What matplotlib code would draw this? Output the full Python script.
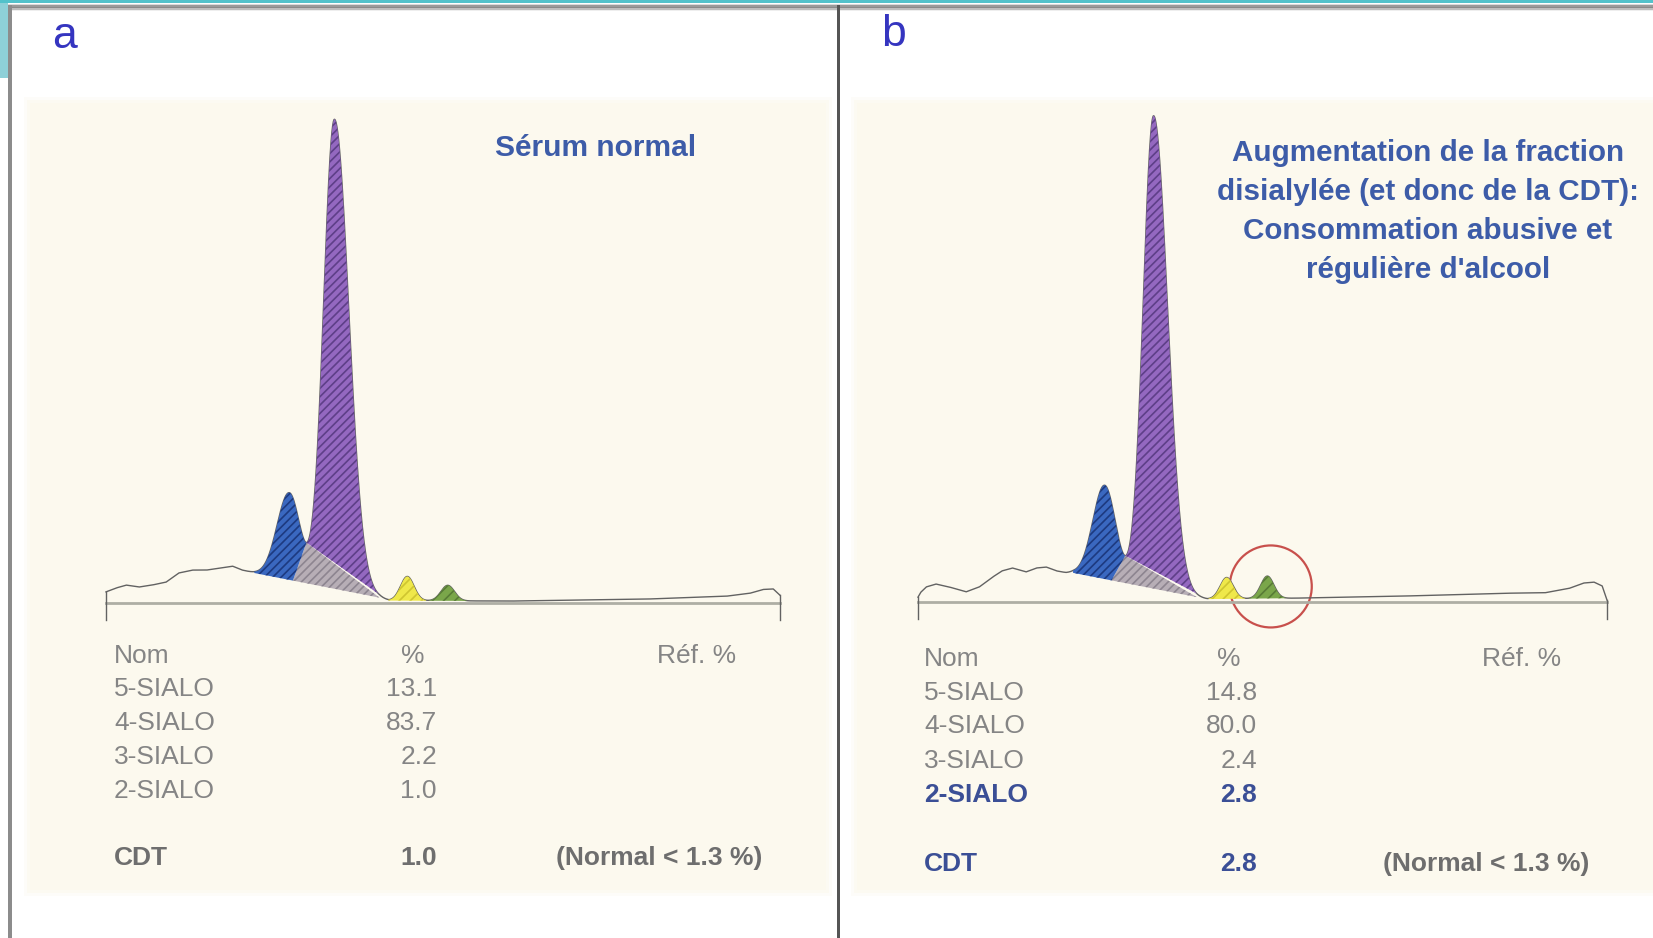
"""
CDT capillary electrophoresis: normal serum vs. chronic alcohol use.
"""

import numpy as np
import matplotlib
matplotlib.use("Agg")
import matplotlib.pyplot as plt
from matplotlib.patches import Rectangle, Polygon, Circle

plt.rcParams["font.family"] = ["Liberation Sans", "DejaVu Sans"]
plt.rcParams["hatch.linewidth"] = 1.2

W, H = 1653, 938

# ---- table values ----
row_names = ["5-SIALO", "4-SIALO", "3-SIALO", "2-SIALO"]
pct_a = ["13.1", "83.7", "2.2", "1.0"]
pct_b = ["14.8", "80.0", "2.4", "2.8"]
cdt_a = "1.0"
cdt_b = "2.8"
normal_text = "(Normal < 1.3 %)"
title_a = "Sérum normal"
title_b_lines = [
    "Augmentation de la fraction",
    "disialylée (et donc de la CDT):",
    "Consommation abusive et",
    "régulière d'alcool",
]

# ---- electropherograms (x: 0-100 along trace, y: 4-SIALO apex ~ 100) ----
# peak order: 5-SIALO, 4-SIALO, 3-SIALO, 2-SIALO
pos_a = [27.2, 33.9, 44.7, 50.7]
height_a = [18.0, 97.0, 5.0, 3.2]
sig_left_a = [1.8, 1.6, 1.0, 1.0]
sig_right_a = [1.6, 2.1, 1.0, 1.0]
start_a, end_a = 22.0, 40.6

pos_b = [27.1, 34.2, 44.8, 50.7]
height_b = [19.3, 97.3, 4.4, 4.6]
sig_left_b = [1.7, 1.5, 0.95, 0.95]
sig_right_b = [1.6, 2.0, 0.95, 0.95]
start_b, end_b = 22.5, 40.5

# baseline (background)
base_x_a = [0.0, 1.5, 3.0, 4.9, 6.8, 8.9, 10.8, 12.8, 14.9, 16.8, 18.8, 20.2,
            22.0, 40.6, 42.0, 60.0, 80.0, 92.0, 95.5, 97.5, 99.0, 100.0]
base_y_a = [2.3, 3.1, 3.7, 3.3, 3.7, 4.3, 6.2, 6.8, 6.8, 7.2, 7.6, 6.8,
            6.2, 1.1, 0.5, 0.4, 0.8, 1.4, 2.0, 2.8, 2.9, 1.6]

base_x_b = [0.0, 0.4, 1.2, 2.6, 4.5, 7.0, 8.9, 10.8, 12.2, 13.7, 15.7, 17.2,
            18.6, 20.1, 21.5, 22.5, 40.5, 42.0, 55.0, 70.0, 85.0, 91.0,
            94.5, 96.6, 98.1, 99.3, 100.0]
base_y_b = [1.0, 2.0, 3.1, 3.7, 3.1, 2.1, 3.1, 5.1, 6.4, 7.0, 6.2, 7.0,
            7.2, 6.4, 6.0, 6.0, 1.0, 0.6, 0.8, 1.2, 1.8, 1.9,
            2.8, 3.9, 4.1, 3.3, 0.4]

col_5 = ("#3a68c0", "#1d3a80")
col_4 = ("#9468c0", "#5e3f88")
col_gap = ("#b7aeb6", "#8d8590")
col_3 = ("#efe84a", "#cfc530")
col_2 = ("#7aa64a", "#587c36")

fig = plt.figure(figsize=(W / 100, H / 100), dpi=100)
fig.patch.set_facecolor("white")

bg = fig.add_axes([0, 0, 1, 1])
bg.set_xlim(0, W)
bg.set_ylim(H, 0)
bg.axis("off")

# frame decorations
bg.add_patch(Rectangle((0, 0), W, 3.5, color="#52c2cb", lw=0))
for y0, c in [(4.5, "#dadada"), (5.5, "#9a9a9a"), (7.0, "#8a8a8a"), (8.5, "#bdbdbd"), (10, "#eeeeee")]:
    bg.add_patch(Rectangle((0, y0), W, 1.5, color=c, lw=0))
bg.add_patch(Rectangle((0, 3.5), 7.5, 75, color="#8ed0d8", lw=0))
bg.add_patch(Rectangle((8, 5), 4, H, color="#8c8c8c", lw=0))
bg.add_patch(Rectangle((837, 5), 3, H, color="#555555", lw=0))

# cream panels with soft edges
for (x0, x1) in [(30, 826), (857, W + 10)]:
    for pad, a in [(6, 0.35), (3, 0.6), (0, 1.0)]:
        bg.add_patch(Rectangle((x0 - pad, 103 - pad), x1 - x0 + 2 * pad, 787 + 2 * pad,
                               color="#fcf9ee", alpha=a, lw=0))

bg.text(65, 37, "a", fontsize=32, color="#3535c0", ha="center", va="center")
bg.text(894, 35, "b", fontsize=32, color="#3535c0", ha="center", va="center")


def trace(x, bx, by, pos, h, sl, sr):
    y = np.interp(x, bx, by)
    for p, hh, a, b in zip(pos, h, sl, sr):
        s = np.where(x < p, a, b)
        y = y + hh * np.exp(-0.5 * ((x - p) / s) ** 2)
    return y


def draw_trace(ax, bx, by, pos, h, sl, sr, start, end):
    x = np.linspace(0, 100, 4000)
    yb = np.interp(x, bx, by)
    y = trace(x, bx, by, pos, h, sl, sr)

    # zero line and trace
    line_c = "#626262"
    ax.plot([0, 100], [0, 0], color="#aeaea4", lw=2.0, zorder=1, clip_on=False)
    ax.plot(x, y, color=line_c, lw=1.0, zorder=2, clip_on=False)
    ax.plot([0, 0], [-3.6, y[0]], color=line_c, lw=1.0, zorder=2, clip_on=False)
    ax.plot([100, 100], [-3.6, y[-1]], color=line_c, lw=1.0, zorder=2, clip_on=False)

    # valley between 5-SIALO and 4-SIALO
    m = (x > pos[0]) & (x < pos[1])
    xv = x[m][np.argmin(y[m])]
    yv = np.interp(xv, x, y)
    xd = xv - 2.0
    yd = np.interp(xd, bx, by)

    s5 = (x >= start) & (x <= xv)
    sb = (x >= start) & (x <= xd)
    poly5 = np.vstack([np.c_[x[s5], y[s5]], [[xd, yd]], np.c_[x[sb][::-1], yb[sb][::-1]]])
    sg = (x >= xd) & (x <= end)
    polyg = np.vstack([[[xv, yv], [xd, yd]], np.c_[x[sg], yb[sg]]])
    s4 = (x >= xv) & (x <= end)
    poly4 = np.c_[x[s4], y[s4]]

    for pts, (fc, hc) in [(polyg, col_gap), (poly5, col_5), (poly4, col_4)]:
        ax.add_patch(Polygon(pts, closed=True, facecolor=fc, edgecolor=hc,
                             hatch="////", lw=0, zorder=3, clip_on=False))

    for p, sa, sbb, (fc, hc) in [(pos[2], sl[2], sr[2], col_3), (pos[3], sl[3], sr[3], col_2)]:
        sel = (x >= p - 2.8 * sa) & (x <= p + 2.8 * sbb)
        ax.fill_between(x[sel], yb[sel], y[sel], facecolor=fc, edgecolor=hc,
                        hatch="///", lw=0, zorder=3, clip_on=False)


def make_axes(x0, x1, ybase, ytop):
    ax = fig.add_axes([x0 / W, (H - ybase) / H, (x1 - x0) / W, (ybase - ytop) / H])
    ax.set_xlim(0, 100)
    ax.set_ylim(0, 100)
    ax.axis("off")
    return ax


ax_a = make_axes(106, 780, 603, 119)
draw_trace(ax_a, base_x_a, base_y_a, pos_a, height_a, sig_left_a, sig_right_a, start_a, end_a)

ax_b = make_axes(918, 1607, 602, 116)
draw_trace(ax_b, base_x_b, base_y_b, pos_b, height_b, sig_left_b, sig_right_b, start_b, end_b)

# red circle around the 2-SIALO peak of panel b
cx, cy = bg.transData.inverted().transform(ax_b.transData.transform((pos_b[3] + 0.5, 3.2)))
bg.add_patch(Circle((cx, cy), 41, fill=False, edgecolor="#c8504c", lw=1.6, zorder=5))

# titles
title_blue = "#3d5ca8"
bg.text(596, 148, title_a, fontsize=21.5, fontweight="bold", color=title_blue,
        ha="center", va="center")
for yy, line in zip([153, 192, 231, 270], title_b_lines):
    bg.text(1428, yy, line, fontsize=21.3, fontweight="bold", color=title_blue,
            ha="center", va="center")

# tables
gray = "#858585"
dark_gray = "#6e6e6e"
hi_blue = "#3b4f96"
fs = 19


def draw_table(x_name, x_val, x_pct, x_ref, x_norm, ys, y_cdt, pcts, cdt, highlight):
    bg.text(x_name, ys[0], "Nom", fontsize=fs, color=gray, ha="left", va="center")
    bg.text(x_pct, ys[0], "%", fontsize=fs, color=gray, ha="center", va="center")
    bg.text(x_ref, ys[0], "Réf. %", fontsize=fs, color=gray, ha="right", va="center")
    for i, (nm, val) in enumerate(zip(row_names, pcts)):
        hl = highlight and nm == "2-SIALO"
        c = hi_blue if hl else gray
        w = "bold" if hl else "normal"
        bg.text(x_name, ys[i + 1], nm, fontsize=fs, color=c, fontweight=w, ha="left", va="center")
        bg.text(x_val, ys[i + 1], val, fontsize=fs, color=c, fontweight=w, ha="right", va="center")
    c = hi_blue if highlight else dark_gray
    bg.text(x_name, y_cdt, "CDT", fontsize=fs, color=c, fontweight="bold", ha="left", va="center")
    bg.text(x_val, y_cdt, cdt, fontsize=fs, color=c, fontweight="bold", ha="right", va="center")
    bg.text(x_norm, y_cdt, normal_text, fontsize=fs, color=dark_gray, fontweight="bold",
            ha="right", va="center")


draw_table(114, 437, 413, 736, 762, [656, 689, 723, 757, 791], 858, pct_a, cdt_a, False)
draw_table(924, 1257, 1229, 1561, 1589, [659, 693, 726, 761, 795], 864, pct_b, cdt_b, True)

fig.savefig("out.png", dpi=100)
